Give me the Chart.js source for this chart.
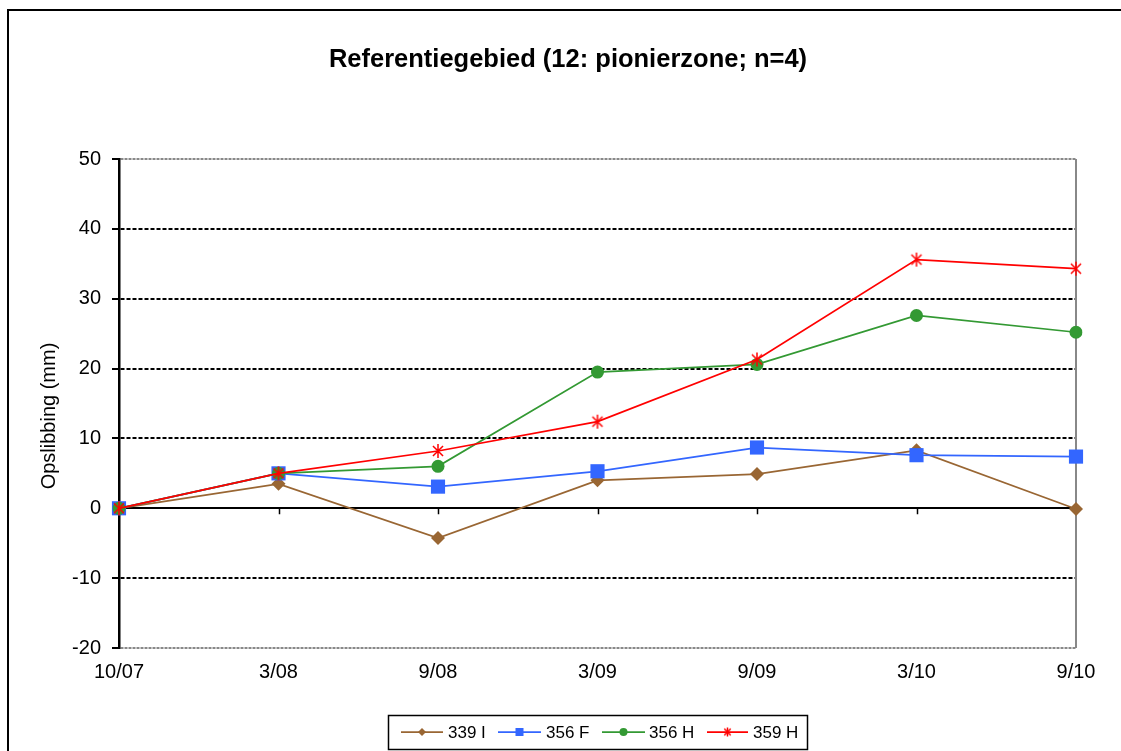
<!DOCTYPE html>
<html>
<head>
<meta charset="utf-8">
<title>Referentiegebied</title>
<script src="https://cdn.jsdelivr.net/npm/chart.js"></script>
<style>
  html, body { margin: 0; padding: 0; background: #fff; }
  #chart { display: block; }
</style>
</head>
<body>
<canvas id="chart" width="1121" height="751"></canvas>
<script>
// data
const dates = ['10/07', '3/08', '9/08', '3/09', '9/09', '3/10', '9/10'];
const s339I = [0, 3.5, -4.25, 4.0, 4.9, 8.3, -0.1];
const s356F = [0, 5.0, 3.1, 5.3, 8.7, 7.6, 7.4];
const s356H = [0, 5.0, 6.0, 19.5, 20.6, 27.6, 25.2];
const s359H = [0, 5.0, 8.2, 12.4, 21.3, 35.6, 34.3];
const yTicks = [-20, -10, 0, 10, 20, 30, 40, 50];

const FONT = "'Liberation Sans', Arial, sans-serif";
const BROWN = '#996633', BLUE = '#3366FF', GREEN = '#339933', RED = '#FF0000';

// Excel style asterisk marker
function makeStar(size, color) {
    const c = document.createElement('canvas');
    c.width = size; c.height = size;
    const g = c.getContext('2d');
    const m = size / 2, a = size / 2 - 1, d = a * 0.72;
    g.strokeStyle = color;
    g.lineWidth = 1.5;
    g.beginPath();
    g.moveTo(m, m - a); g.lineTo(m, m + a);
    g.moveTo(m - d, m - d); g.lineTo(m + d, m + d);
    g.moveTo(m + d, m - d); g.lineTo(m - d, m + d);
    g.stroke();
    return c;
}
const starBig = makeStar(16, RED);
const starSmall = makeStar(11, RED);

function drawMarker(ctx, kind, x, y, r, color) {
    ctx.save();
    ctx.fillStyle = color;
    ctx.beginPath();
    if (kind === 'diamond') {
        ctx.moveTo(x, y - r); ctx.lineTo(x + r, y); ctx.lineTo(x, y + r); ctx.lineTo(x - r, y);
        ctx.closePath(); ctx.fill();
    } else if (kind === 'square') {
        ctx.fillRect(x - r, y - r, 2 * r, 2 * r);
    } else if (kind === 'circle') {
        ctx.arc(x, y, r, 0, Math.PI * 2); ctx.fill();
    } else {
        ctx.drawImage(starSmall, x - starSmall.width / 2, y - starSmall.height / 2);
    }
    ctx.restore();
}

const legendItems = [
    { text: '339 I', color: BROWN, kind: 'diamond', x1: 401, x2: 443, r: 4, tx: 448 },
    { text: '356 F', color: BLUE, kind: 'square', x1: 498, x2: 541, r: 4, tx: 546 },
    { text: '356 H', color: GREEN, kind: 'circle', x1: 602, x2: 645, r: 4, tx: 649 },
    { text: '359 H', color: RED, kind: 'star', x1: 707, x2: 748, r: 4, tx: 753 }
];

const decor = {
    id: 'decor',
    beforeDatasetsDraw(chart) {
        const { ctx, chartArea: a, scales } = chart;
        ctx.save();
        // right border of plot area
        ctx.strokeStyle = '#888';
        ctx.lineWidth = 2;
        ctx.beginPath();
        ctx.moveTo(a.right, a.top);
        ctx.lineTo(a.right, a.bottom);
        ctx.stroke();
        // tick marks on the zero line
        const y0 = scales.y.getPixelForValue(0);
        ctx.strokeStyle = '#000';
        ctx.lineWidth = 1.5;
        ctx.beginPath();
        for (let i = 1; i < dates.length; i++) {
            const x = Math.round(scales.x.getPixelForValue(i)) + 0.5;
            ctx.moveTo(x, y0);
            ctx.lineTo(x, y0 + 6);
        }
        ctx.stroke();
        ctx.restore();
    },
    afterDraw(chart) {
        const { ctx } = chart;
        ctx.save();
        // outer frame
        ctx.strokeStyle = '#000';
        ctx.lineWidth = 2;
        ctx.strokeRect(8, 10, 1200, 900);

        // title
        ctx.fillStyle = '#000';
        ctx.font = 'bold 25.5px ' + FONT;
        ctx.textAlign = 'center';
        ctx.textBaseline = 'alphabetic';
        ctx.fillText('Referentiegebied (12: pionierzone; n=4)', 568, 67);

        // y axis title
        ctx.save();
        ctx.translate(49, 416);
        ctx.rotate(-Math.PI / 2);
        ctx.font = '20px ' + FONT;
        ctx.textBaseline = 'middle';
        ctx.fillText('Opslibbing (mm)', 0, 0);
        ctx.restore();

        // legend
        ctx.lineWidth = 1.5;
        ctx.strokeStyle = '#000';
        ctx.strokeRect(388.5, 715.5, 419, 34);
        ctx.font = '17px ' + FONT;
        ctx.textAlign = 'left';
        ctx.textBaseline = 'middle';
        const ly = 732;
        legendItems.forEach(it => {
            ctx.strokeStyle = it.color;
            ctx.lineWidth = 1.75;
            ctx.beginPath();
            ctx.moveTo(it.x1, ly);
            ctx.lineTo(it.x2, ly);
            ctx.stroke();
            drawMarker(ctx, it.kind, (it.x1 + it.x2) / 2, ly, it.r, it.color);
            ctx.fillStyle = '#000';
            ctx.fillText(it.text, it.tx, ly + 1);
        });
        ctx.restore();
    }
};

function series(label, data, color, style, radius, order) {
    return {
        label: label,
        data: data,
        borderColor: color,
        backgroundColor: color,
        borderWidth: 1.75,
        pointStyle: style,
        pointRadius: radius,
        pointHoverRadius: radius,
        pointBorderWidth: 0,
        pointBackgroundColor: color,
        tension: 0,
        order: order
    };
}

const isEdge = c => c.tick && (c.tick.value === 50 || c.tick.value === -20);
const isZero = c => c.tick && c.tick.value === 0;

new Chart(document.getElementById('chart'), {
    type: 'line',
    data: {
        labels: dates,
        datasets: [
            series('339 I', s339I, BROWN, 'rectRot', 7, 4),
            series('356 F', s356F, BLUE, 'rect', 10, 3),
            series('356 H', s356H, GREEN, 'circle', 6.5, 2),
            series('359 H', s359H, RED, starBig, 8, 1)
        ]
    },
    options: {
        responsive: false,
        animation: false,
        layout: { padding: { top: 159, right: 45, left: 0, bottom: 0 } },
        plugins: {
            legend: { display: false },
            title: { display: false },
            tooltip: { enabled: false }
        },
        scales: {
            x: {
                type: 'category',
                offset: false,
                grid: { display: false, drawTicks: false },
                border: { display: false },
                ticks: {
                    color: '#000',
                    font: { family: FONT, size: 20 },
                    padding: 12,
                    maxRotation: 0,
                    autoSkip: false
                },
                afterFit: s => { s.height = 103; }
            },
            y: {
                min: -20,
                max: 50,
                afterBuildTicks: s => { s.ticks = yTicks.map(v => ({ value: v })); },
                grid: {
                    color: c => isEdge(c) ? '#888' : '#000',
                    lineWidth: 2,
                    tickColor: '#000',
                    tickLength: 7,
                    tickWidth: 2,
                    tickBorderDash: []
                },
                border: {
                    display: true,
                    color: '#000',
                    width: 2.5,
                    dash: c => isZero(c) ? [] : (isEdge(c) ? [3, 1] : [4, 2])
                },
                ticks: {
                    color: '#000',
                    font: { family: FONT, size: 20 },
                    padding: 11
                },
                afterFit: s => { s.width = 119; }
            }
        }
    },
    plugins: [decor]
});
</script>
</body>
</html>
